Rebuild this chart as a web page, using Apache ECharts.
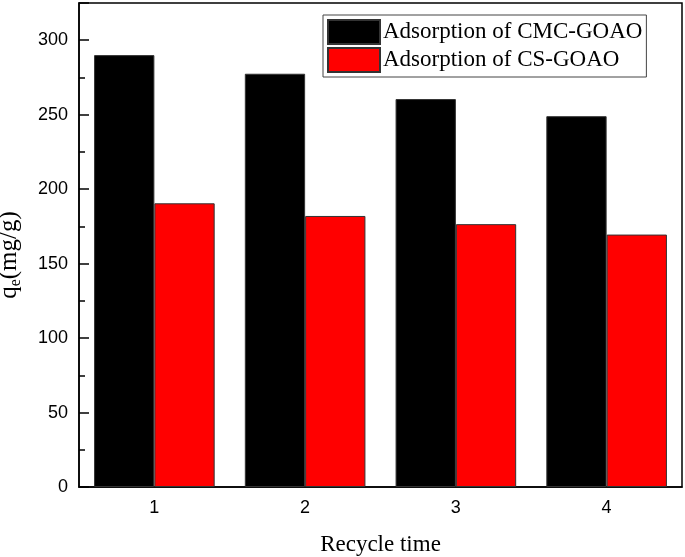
<!DOCTYPE html>
<html>
<head>
<meta charset="utf-8">
<script src="https://cdn.jsdelivr.net/npm/echarts@6/dist/echarts.min.js"></script>
<style>html,body{margin:0;padding:0;background:#fff}#c{width:685px;height:557px}</style>
</head>
<body>
<div id="c"></div>
<script>
const categories = ['1', '2', '3', '4'];
const cmcValues = [290, 277.5, 260.5, 249];
const csValues = [190.5, 182, 176.5, 169.5];
const seriesNames = ['Adsorption of CMC-GOAO', 'Adsorption of CS-GOAO'];
const yMin = 0, yMax = 325;

const chart = echarts.init(document.getElementById('c'), null, {renderer: 'canvas'});
const serif = '"Liberation Serif", "Times New Roman", serif';
const sans = '"Liberation Sans", Arial, sans-serif';
chart.setOption({
  animation: false,
  backgroundColor: '#fff',
  grid: {left: 79, right: 3, top: 3, bottom: 70, show: true, borderColor: '#000', borderWidth: 1.5,
    backgroundColor: 'transparent', containLabel: false, outerBoundsMode: 'none'},
  legend: {
    orient: 'vertical', left: 323, top: 15,
    data: seriesNames,
    itemWidth: 52, itemHeight: 24, itemGap: 2,
    padding: [4, 4, 4, 4],
    borderColor: '#444', borderWidth: 1,
    icon: 'rect',
    textStyle: {fontFamily: serif, fontSize: 23, color: '#000', padding: [0, 0, 0, -2]}
  },
  xAxis: {
    type: 'category', data: categories,
    axisLine: {lineStyle: {color: '#000', width: 1.5}},
    axisTick: {inside: true, length: 6, lineStyle: {color: '#000', width: 1.5}},
    axisLabel: {fontFamily: sans, fontSize: 18, color: '#000', margin: 12},
    name: 'Recycle time', nameLocation: 'middle', nameGap: 46,
    nameTextStyle: {fontFamily: serif, fontSize: 23, color: '#000'}
  },
  yAxis: [{
    type: 'value', min: yMin, max: yMax, interval: 50, position: 'left', offset: 0,
    splitLine: {show: false},
    axisLine: {show: true, onZero: false, lineStyle: {color: '#000', width: 1.5}},
    axisTick: {show: true, inside: true, length: 10, lineStyle: {color: '#000', width: 1.5}},
    axisLabel: {fontFamily: sans, fontSize: 18, color: '#000', margin: 11,
      formatter: v => (v % 50 === 0 ? String(v) : '')},
    name: '{a|q}{b|e}{a|(mg/g)}', nameLocation: 'middle', nameGap: 55,
    nameTextStyle: {fontFamily: serif, fontSize: 25, color: '#000', padding: [0, 20, 0, 0],
      rich: {a: {fontFamily: serif, fontSize: 25, color: '#000'}, b: {fontFamily: serif, fontSize: 16, color: '#000', padding: [14, 0, 0, 0]}}}
  }, {
    type: 'value', min: yMin, max: yMax, interval: 25, position: 'left', offset: 0,
    splitLine: {show: false},
    axisLine: {show: false, onZero: false},
    axisTick: {show: true, inside: true, length: 6, lineStyle: {color: '#000', width: 1.5}},
    axisLabel: {show: false}
  }],
  series: [{
    name: seriesNames[0], type: 'bar', data: cmcValues, barGap: '0%', barCategoryGap: '20%',
    itemStyle: {color: '#000', borderColor: '#333', borderWidth: 1}
  }, {
    name: seriesNames[1], type: 'bar', data: csValues, barGap: '0%', barCategoryGap: '20%',
    itemStyle: {color: '#ff0000', borderColor: '#333', borderWidth: 1}
  }]
});
</script>
</body>
</html>
